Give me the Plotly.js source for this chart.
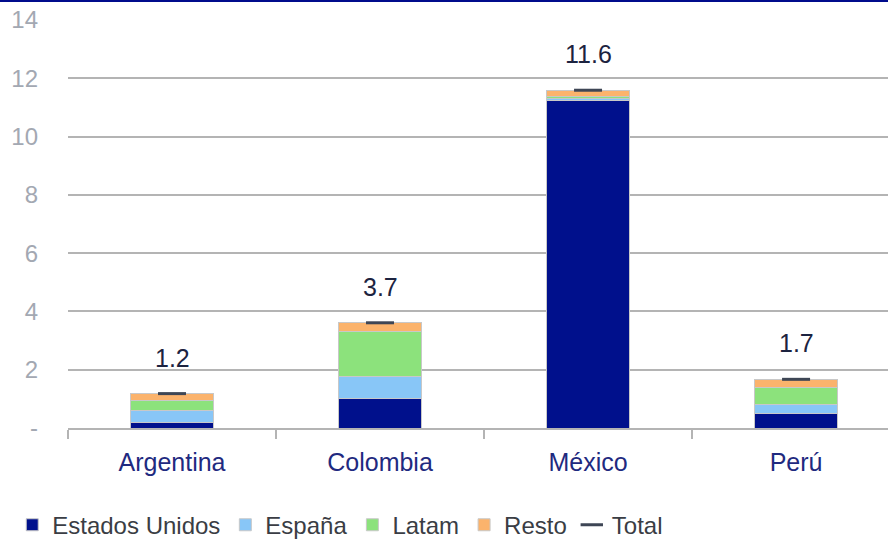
<!DOCTYPE html>
<html>
<head>
<meta charset="utf-8">
<script src="https://cdn.plot.ly/plotly-3.0.1.min.js"></script>
<style>
  html, body { margin: 0; padding: 0; background: #fff; overflow: hidden; }
  #wrap { position: relative; width: 888px; height: 540px; overflow: hidden; }
  #topline { position: absolute; left: 0; top: 0; width: 888px; height: 2px; background: #000c8c; z-index: 5; }
  #chart { width: 888px; height: 560px; }
</style>
</head>
<body>
<div id="wrap"><div id="topline"></div><div id="chart"></div></div>
<script>
const categories = ["Argentina", "Colombia", "México", "Perú"];
const estadosUnidos = [0.20, 1.00, 11.25, 0.50];
const espana = [0.41, 0.78, 0.06, 0.32];
const latam = [0.32, 1.54, 0.08, 0.56];
const resto = [0.25, 0.29, 0.20, 0.29];
const totalLabels = ["1.2", "3.7", "11.6", "1.7"];
const yTickVals = [0, 2, 4, 6, 8, 10, 12, 14];
const yTickText = ["-", "2", "4", "6", "8", "10", "12", "14"];

const totals = categories.map((c, i) => estadosUnidos[i] + espana[i] + latam[i] + resto[i]);

const font = "Liberation Sans, Arial, sans-serif";
const barLine = { color: "#c8c8c8", width: 1 };
function barTrace(name, y, color) {
  return { type: "bar", name: name, x: categories, y: y, width: 0.4,
    marker: { color: color, line: barLine }, hoverinfo: "skip" };
}

const traces = [
  barTrace("Estados Unidos", estadosUnidos, "#00108c"),
  barTrace("España", espana, "#88c6f7"),
  barTrace("Latam", latam, "#8ce27c"),
  barTrace("Resto", resto, "#fbb36c"),
  { type: "scatter", mode: "markers", name: "Total", x: categories, y: totals,
    marker: { symbol: "line-ew", size: 20, color: "#3e4655", line: { color: "#3e4655", width: 3 } },
    hoverinfo: "skip", cliponaxis: false }
];

const annotations = categories.map((c, i) => ({
  x: c, y: totals[i], xref: "x", yref: "y", text: totalLabels[i], showarrow: false,
  yshift: 36, font: { family: font, size: 25, color: "#1c2340" }
}));

const layout = {
  width: 888, height: 560,
  margin: { l: 68, r: 0, t: 20, b: 132 },
  paper_bgcolor: "#ffffff", plot_bgcolor: "#ffffff",
  barmode: "stack",
  showlegend: true,
  font: { family: font },
  xaxis: {
    range: [-0.5, 3.442], type: "category", categoryorder: "array", categoryarray: categories,
    showgrid: false, showline: true, linecolor: "#b4b4b4", linewidth: 2,
    ticks: "outside", tickson: "boundaries", ticklen: 9, tickcolor: "#b4b4b4", tickwidth: 2,
    tickfont: { family: font, size: 25, color: "#1f2a80" }, ticklabelstandoff: 11,
    zeroline: false, fixedrange: true, automargin: false
  },
  yaxis: {
    range: [0, 14], tickvals: yTickVals, ticktext: yTickText,
    showgrid: true, gridcolor: "#b4b4b4", gridwidth: 2,
    showline: false, zeroline: false, ticks: "",
    tickfont: { family: font, size: 24, color: "#a3a8b2" }, ticklabelstandoff: 29,
    fixedrange: true, automargin: false
  },
  legend: {
    orientation: "h", x: -0.068, y: -0.183, xanchor: "left", yanchor: "top",
    font: { family: font, size: 24, color: "#3a3d44" },
    itemwidth: 30, tracegroupgap: 0, traceorder: "normal", bgcolor: "rgba(0,0,0,0)"
  },
  annotations: annotations
};

Plotly.newPlot("chart", traces, layout, { displayModeBar: false, staticPlot: true });
</script>
</body>
</html>
